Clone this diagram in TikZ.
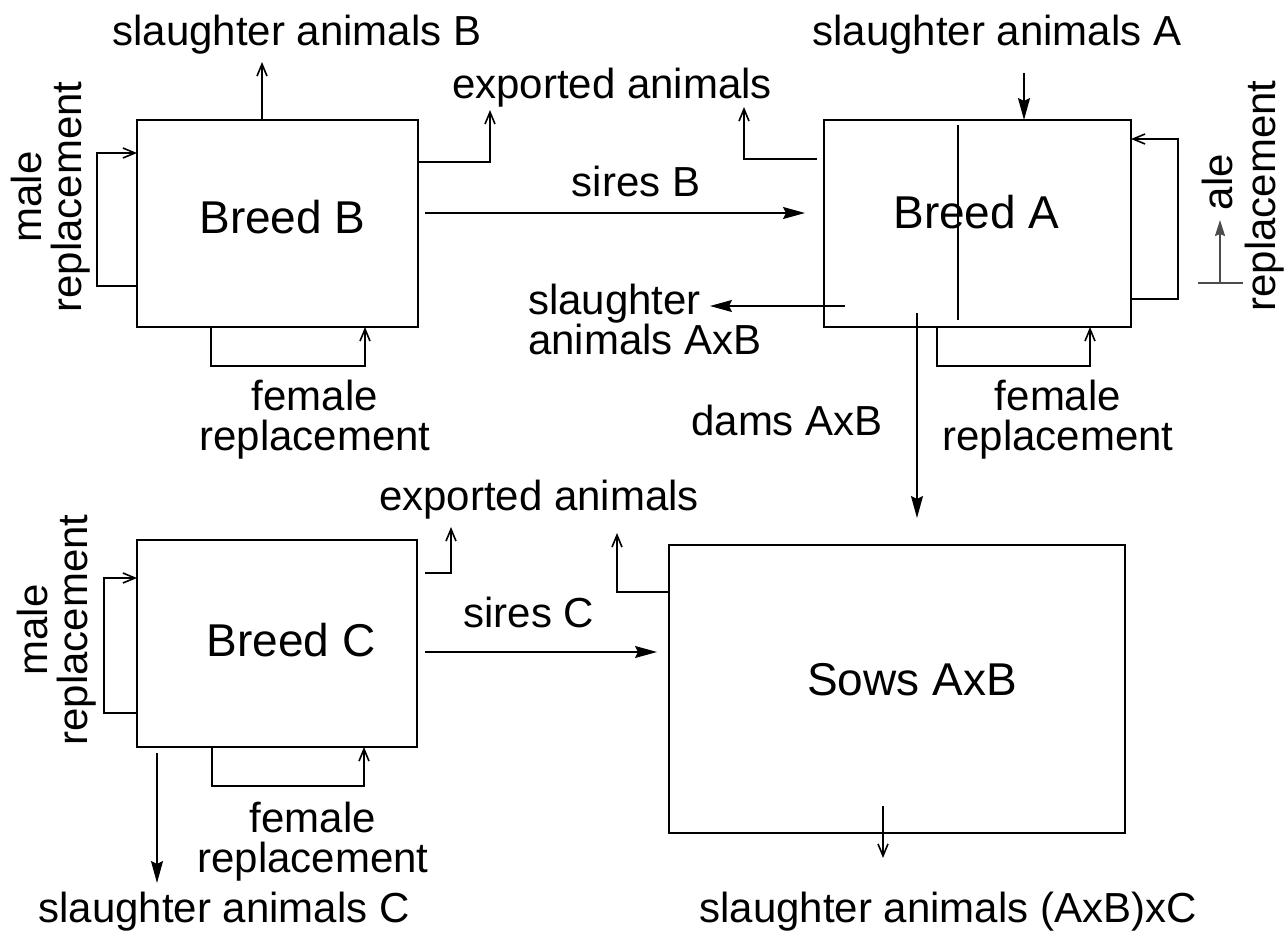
\documentclass[tikz,border=0pt]{standalone}
\usepackage{fontspec}
\setmainfont{Liberation Sans}
\usetikzlibrary{arrows.meta}
\begin{document}
\begin{tikzpicture}[x=1pt,y=-1pt,
  every node/.style={inner sep=0pt, outer sep=0pt},
  lab/.style={font=\fontsize{42pt}{40pt}\selectfont, align=center},
  blab/.style={font=\fontsize{46pt}{50pt}\selectfont},
  box/.style={draw, line width=1.6pt},
  conn/.style={line width=1.6pt},
  oarr/.style={conn, -{Straight Barb[length=12pt,width=10pt]}},
  farr/.style={conn, -{Stealth[length=22pt,width=12pt,inset=3pt]}},
  garr/.style={line width=2.2pt, draw=black!70, -{Stealth[length=16pt,width=10pt,inset=2pt]}}
]
\useasboundingbox (0,0) rectangle (1288,937);

% ---------- Breed B ----------
\node[box, minimum width=281pt, minimum height=207pt] (bB) at (277.5,223.5) {};
\node[blab] (tB) at (282.5,217) {Breed B};
\draw[oarr] (bB.west |- 0,286) -- (97,286) -- (97,153) -- (bB.west |- 0,153);
\draw[oarr] (bB.south -| 211,0) -- (211,366) -- (365,366) -- (bB.south -| 365,0);
\draw[oarr] (bB.north -| 262,0) -- (262,62);
\draw[oarr] (bB.east |- 0,162) -- (490,162) -- (490,110);
\node[lab] (slB) at (297,35) {slaughter animals B};
\node[lab, rotate=90] (mrB) at (51,197) {male\\replacement};
\node[lab] (frB) at (315,420) {female\\replacement};
\node[lab] (ex1) at (612,88) {exported animals};

% ---------- Breed A ----------
\node[box, minimum width=307pt, minimum height=207pt] (bA) at (977.5,223.5) {};
\node[blab] (tA) at (976.5,212) {Breed A};
\draw[conn] (958,125) -- (958,320);
\coordinate (slAtop) at (1024,73);
\draw[farr] (slAtop) -- (bA.north -| slAtop);
\node[lab] (slA) at (997,35) {slaughter animals A};
\draw[oarr] (bA.east |- 0,299) -- (1178,299) -- (1178,139) -- (bA.east |- 0,139);
\draw[oarr, shorten <=7pt] (bA.west |- 0,159) -- (744,159) -- (744,107);
\coordinate (axbS) at (845,306);
\coordinate (axbE) at (710,306);
\draw[farr] (axbS) -- (axbE);
\node[lab, align=left, anchor=west] (slAxB) at (528,319) {slaughter\\animals AxB};
\draw[oarr] (bA.south -| 937,0) -- (937,366) -- (1090,366) -- (bA.south -| 1090,0);
\node[lab] (frA) at (1058,420) {female\\replacement};
\node[lab] (dams) at (787,420) {dams AxB};
% odd bracket
\coordinate (brL) at (1198,283);
\coordinate (brR) at (1243,283);
\coordinate (brM) at (1220,283);
\draw[conn, draw=black!70] (brL) -- (brR);
\draw[garr] (brM) -- (1220,220);
\node[lab, rotate=90] (ale) at (1217,182) {ale};
\node[lab, rotate=90] (repA) at (1265,196) {replacement};

% ---------- Sows ----------
\node[box, minimum width=456pt, minimum height=288pt] (sows) at (897,689) {};
\node[blab] (tS) at (912,680) {Sows AxB};
\draw[oarr] (sows.west |- 0,592) -- (617,592) -- (617,533);
\coordinate (sowsOut) at (883,806);
\draw[oarr] (sowsOut) -- (883,858);
\node[lab] (slS) at (948,912) {slaughter animals (AxB)xC};

% dams arrow and sires B
\coordinate (damsS) at (917,313);
\draw[farr, shorten >=27pt] (damsS) -- (sows.north -| damsS);
\draw[farr, shorten <=7pt, shorten >=19pt] (bB.east |- 0,213) -- (bA.west |- 0,213);
\node[lab] (sB) at (636,181) {sires B};

% ---------- Breed C ----------
\node[box, minimum width=280pt, minimum height=207pt] (bC) at (277,643.5) {};
\node[blab] (tC) at (291,640) {Breed C};
\draw[oarr] (bC.west |- 0,713) -- (104,713) -- (104,578) -- (bC.west |- 0,578);
\node[lab, rotate=90] (mrC) at (57,630) {male\\replacement};
\draw[oarr] (bC.south -| 212,0) -- (212,786) -- (364,786) -- (bC.south -| 364,0);
\node[lab] (frC) at (313,842) {female\\replacement};
\draw[farr, shorten <=6pt] (bC.south -| 157,0) -- (157,883);
\node[lab] (slC) at (224,912) {slaughter animals C};
\draw[oarr, shorten <=8pt] (bC.east |- 0,573) -- (451,573) -- (451,527);
\draw[farr, shorten <=8pt, shorten >=12pt] (bC.east |- 0,652) -- (sows.west |- 0,652);
\node[lab] (sC) at (529,612) {sires C};
\node[lab] (ex2) at (539,500) {exported animals};
\end{tikzpicture}
\end{document}
